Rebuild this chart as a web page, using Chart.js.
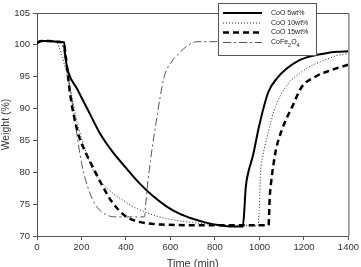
<!DOCTYPE html>
<html>
<head>
<meta charset="utf-8">
<script src="https://cdn.jsdelivr.net/npm/chart.js@4"></script>
<style>
  html, body { margin: 0; padding: 0; background: #fff; }
  #wrap { width: 361px; height: 267px; position: relative; }
</style>
</head>
<body>
<div id="wrap"><canvas id="tgaChart"></canvas></div>
<script>
// Time (min) / Weight (%), one pair of arrays per sample
const time5 = [0, 20, 50, 90, 122, 128, 140, 180, 230, 280, 340, 400, 460, 520, 580, 640, 700, 760, 820, 880, 925, 932, 938, 950, 970, 1000, 1040, 1080, 1120, 1180, 1240, 1300, 1350, 1400];
const weight5 = [100.3, 100.6, 100.6, 100.5, 100.4, 98.0, 95.8, 93.1, 89.7, 86.3, 83.2, 80.7, 78.3, 76.3, 74.7, 73.5, 72.7, 72.1, 71.7, 71.5, 71.5, 74.0, 77.5, 80.0, 82.5, 87.5, 92.6, 94.8, 96.2, 97.6, 98.3, 98.7, 98.9, 99.0];

const time10 = [0, 20, 50, 88, 110, 150, 183, 210, 251, 300, 386, 450, 550, 620, 700, 800, 900, 993, 999, 1005, 1015, 1034, 1072, 1131, 1180, 1221, 1300, 1355, 1400];
const weight10 = [100.3, 100.6, 100.6, 100.4, 98.5, 93.0, 87.5, 84.3, 80.4, 78.0, 75.6, 74.3, 73.0, 72.5, 72.1, 71.8, 71.6, 71.6, 74.0, 79.9, 82.5, 85.5, 90.3, 94.0, 95.5, 96.5, 97.7, 98.4, 98.6];

const time15 = [0, 20, 50, 90, 120, 128, 150, 184, 220, 251, 300, 340, 402, 450, 492, 560, 700, 850, 1000, 1041, 1046, 1052, 1062, 1074, 1100, 1150, 1190, 1251, 1320, 1400];
const weight15 = [100.3, 100.6, 100.6, 100.5, 100.3, 98.5, 92.0, 86.2, 83.0, 80.8, 77.5, 75.2, 73.0, 72.3, 72.0, 71.8, 71.7, 71.7, 71.7, 71.7, 76.0, 78.3, 81.0, 83.5, 86.6, 90.5, 93.4, 95.0, 96.0, 96.9];

const timeFe = [0, 20, 50, 90, 110, 140, 170, 200, 237, 273, 313, 360, 402, 450, 483, 490, 500, 537, 572, 604, 640, 670, 720, 787, 900];
const weightFe = [100.3, 100.6, 100.6, 100.4, 100.2, 95.0, 88.2, 81.5, 76.8, 74.4, 73.3, 73.0, 73.0, 73.0, 73.0, 75.5, 79.0, 88.2, 95.0, 97.3, 98.7, 99.7, 100.5, 100.5, 100.5];

const seriesNames = ['CoO 5wt%', 'CoO 10wt%', 'CoO 15wt%', 'CoFe2O4'];
const xTicks = [0, 200, 400, 600, 800, 1000, 1200, 1400];
const yTicks = [70, 75, 80, 85, 90, 95, 100, 105];

function pairs(ts, ws) {
    return ts.map((t, i) => ({ x: t, y: ws[i] }));
}

const styles = [
    { borderColor: '#000', borderWidth: 2, borderDash: [] },
    { borderColor: '#222', borderWidth: 1, borderDash: [1, 2] },
    { borderColor: '#000', borderWidth: 2.5, borderDash: [6, 4] },
    { borderColor: '#555', borderWidth: 1, borderDash: [8, 3, 2, 3] }
];

const allData = [pairs(time5, weight5), pairs(time10, weight10), pairs(time15, weight15), pairs(timeFe, weightFe)];

// frame on top and right of the plot
const framePlugin = {
    id: 'frame',
    beforeDatasetsDraw(chart) {
        const a = chart.chartArea, c = chart.ctx;
        c.save();
        c.strokeStyle = '#555';
        c.lineWidth = 1;
        c.beginPath();
        c.moveTo(a.left, a.top + 0.5);
        c.lineTo(a.right + 0.5, a.top + 0.5);
        c.lineTo(a.right + 0.5, a.bottom);
        c.stroke();
        c.restore();
    }
};

// boxed legend sitting over the top edge
const boxLegend = {
    id: 'boxLegend',
    afterDraw(chart) {
        const c = chart.ctx;
        const bx = 218, by = 3, bw = 98, bh = 52;
        c.save();
        c.fillStyle = '#fff';
        c.fillRect(bx, by, bw, bh);
        c.strokeStyle = '#555';
        c.lineWidth = 1;
        c.strokeRect(bx + 0.5, by + 0.5, bw, bh);
        const rows = [13, 23, 32.5, 42.5];
        rows.forEach((ry, i) => {
            const s = styles[i];
            c.strokeStyle = s.borderColor;
            c.lineWidth = s.borderWidth;
            c.setLineDash(s.borderDash);
            c.beginPath();
            c.moveTo(223, ry);
            c.lineTo(262, ry);
            c.stroke();
            c.setLineDash([]);
            c.fillStyle = '#222';
            c.textBaseline = 'middle';
            c.textAlign = 'left';
            if (i < 3) {
                c.font = '7px "Liberation Sans", Arial, sans-serif';
                c.fillText(seriesNames[i], 271, ry);
            } else {
                // CoFe2O4 with subscripts
                let x = 271;
                const parts = [['CoFe', 0], ['2', 1], ['O', 0], ['4', 1]];
                parts.forEach(([txt, sub]) => {
                    c.font = (sub ? '5.5px' : '7px') + ' "Liberation Sans", Arial, sans-serif';
                    c.fillText(txt, x, ry + (sub ? 2.5 : 0));
                    x += c.measureText(txt).width;
                });
            }
        });
        c.restore();
    }
};

const ctx = document.getElementById('tgaChart').getContext('2d');
const tgaChart = new Chart(ctx, {
    type: 'line',
    data: {
        datasets: allData.map((d, i) => ({
            label: seriesNames[i],
            data: d,
            borderColor: styles[i].borderColor,
            borderWidth: styles[i].borderWidth,
            borderDash: styles[i].borderDash,
            pointRadius: 0,
            fill: false,
            cubicInterpolationMode: 'monotone'
        }))
    },
    options: {
        responsive: true,
        maintainAspectRatio: false,
        animation: false,
        layout: { padding: { left: 0, top: 13, right: 11, bottom: 0 } },
        scales: {
            x: {
                type: 'linear',
                min: 0,
                max: 1400,
                afterBuildTicks: s => { s.ticks = xTicks.map(v => ({ value: v })); },
                afterFit: s => { s.height = 31; },
                grid: { drawOnChartArea: false, tickLength: 4, color: '#555' },
                border: { color: '#555', width: 1 },
                ticks: {
                    color: '#333',
                    font: { family: '"Liberation Sans", Arial, sans-serif', size: 9.5 },
                    padding: 2,
                    maxRotation: 0,
                    callback: v => String(v)
                },
                title: {
                    display: true,
                    text: 'Time (min)',
                    color: '#333',
                    font: { family: '"Liberation Sans", Arial, sans-serif', size: 11 },
                    padding: { top: 0, bottom: -4 }
                }
            },
            y: {
                min: 70,
                max: 105,
                afterBuildTicks: s => { s.ticks = yTicks.map(v => ({ value: v })); },
                afterFit: s => { s.width = 37; },
                grid: { drawOnChartArea: false, tickLength: 4, color: '#555' },
                border: { color: '#555', width: 1 },
                ticks: {
                    color: '#333',
                    font: { family: '"Liberation Sans", Arial, sans-serif', size: 9.5 },
                    padding: 3,
                    callback: v => String(v)
                },
                title: {
                    display: true,
                    text: 'Weight (%)',
                    color: '#333',
                    font: { family: '"Liberation Sans", Arial, sans-serif', size: 10.5 },
                    padding: { top: 0, bottom: 0 }
                }
            }
        },
        plugins: {
            legend: { display: false },
            tooltip: { enabled: false }
        }
    },
    plugins: [framePlugin, boxLegend]
});
</script>
</body>
</html>
